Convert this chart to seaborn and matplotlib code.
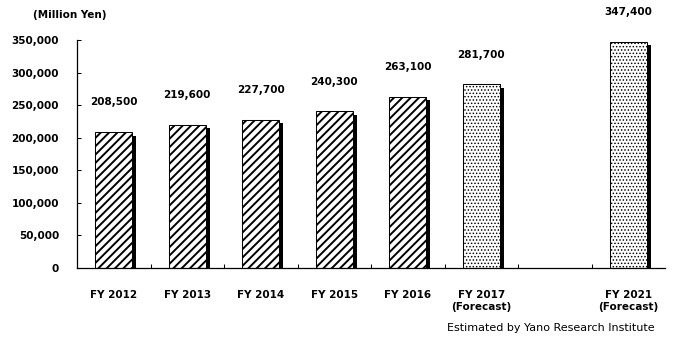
import matplotlib
matplotlib.use("Agg")
import matplotlib.pyplot as plt
import matplotlib.patheffects as pe
import seaborn as sns
import pandas as pd

# ---- data ----
categories = ["FY 2012", "FY 2013", "FY 2014", "FY 2015", "FY 2016",
              "FY 2017\n(Forecast)", "FY 2021\n(Forecast)"]
values = [208500, 219600, 227700, 240300, 263100, 281700, 347400]
is_forecast = [False, False, False, False, False, True, True]
slot_order = ["FY 2012", "FY 2013", "FY 2014", "FY 2015", "FY 2016",
              "FY 2017\n(Forecast)", " ", "FY 2021\n(Forecast)"]
yticks = [0, 50000, 100000, 150000, 200000, 250000, 300000, 350000]
unit_label = "(Million Yen)"
source_note = "Estimated by Yano Research Institute"

df = pd.DataFrame({"category": categories, "value": values, "forecast": is_forecast})

sns.set_style("white")
plt.rcParams["font.family"] = ["DejaVu Sans"]
plt.rcParams["hatch.color"] = "black"
plt.rcParams["hatch.linewidth"] = 1.4
for k in ["text.color", "xtick.color", "ytick.color", "axes.labelcolor", "axes.edgecolor"]:
    plt.rcParams[k] = "black"

fig = plt.figure(figsize=(6.73, 3.47), dpi=100)
ax = fig.add_axes([77/673, 1-268/347, (665-77)/673, (268-40)/347])

sns.barplot(data=df, x="category", y="value", order=slot_order, color="white",
            edgecolor="black", linewidth=0.75, width=0.5, ax=ax, saturation=1)

fc_map = dict(zip(categories, is_forecast))
for p in ax.patches:
    xc = p.get_x() + p.get_width() / 2
    idx = int(round(xc))
    cat = slot_order[idx]
    fc = fc_map.get(cat, False)
    p.set_hatch("....." if fc else "////")
    try:
        p.set_hatch_linewidth(0.65 if fc else 1.4)
    except AttributeError:
        pass
    p.set_facecolor("white")
    p.set_edgecolor("black")
    p.set_path_effects([pe.SimplePatchShadow(offset=(2.8, -2.4), shadow_rgbFace="black", alpha=1.0),
                        pe.Normal()])

for cat, v in zip(categories, values):
    ax.annotate(f"{v:,}", xy=(slot_order.index(cat), v), xytext=(0, 21.5),
                textcoords="offset points", ha="center", va="center", color="black",
                fontsize=7.5, fontweight="bold", annotation_clip=False)

ax.set_ylim(0, 350000)
ax.set_xlim(-0.5, len(slot_order) - 0.5)
ax.set_yticks(yticks)
ax.set_yticklabels([f"{t:,}" for t in yticks])
ax.set_xticks(range(len(slot_order)))
ax.set_xticklabels(slot_order, linespacing=1.25)
ax.set_xlabel("")
ax.set_ylabel("")

for lab in ax.get_xticklabels() + ax.get_yticklabels():
    lab.set_fontweight("bold")
    lab.set_fontsize(7.5)
    lab.set_color("black")

ax.tick_params(axis="y", direction="in", length=3, width=0.75, pad=13, left=True)
ax.tick_params(axis="x", which="major", bottom=False, pad=12)
ax.set_xticks([i + 0.5 for i in range(len(slot_order) - 1)], minor=True)
ax.tick_params(axis="x", which="minor", direction="in", length=3, width=0.75, bottom=True)

for s in ["top", "right"]:
    ax.spines[s].set_visible(False)
for s in ["left", "bottom"]:
    ax.spines[s].set_color("black")
    ax.spines[s].set_linewidth(0.9)

fig.text(33/673, 1-15/347, unit_label, fontsize=7.5, fontweight="bold", va="center", ha="left", color="black")
fig.text(655/673, 1-328/347, source_note, fontsize=8, va="center", ha="right", color="black")

fig.savefig("out.png", dpi=100, facecolor="white")
